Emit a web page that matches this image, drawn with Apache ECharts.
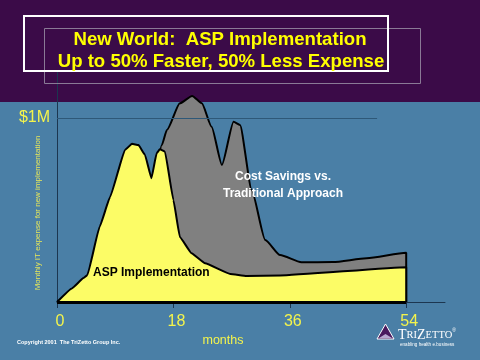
<!DOCTYPE html>
<html>
<head>
<meta charset="utf-8">
<script src="https://cdn.jsdelivr.net/npm/echarts@6/dist/echarts.min.js"></script>
<style>html,body{margin:0;padding:0;background:#4a7fa6;}#c{width:480px;height:360px;}</style>
</head>
<body>
<div id="c"></div>
<script>
// months since start
var aspMonths = [0, 2.3, 4.1, 4.7, 6.6, 8.2, 10.5, 11.6, 12.6, 13.6, 14.6, 15.4, 15.9, 16.7, 18.0, 19.0, 20.8, 22.9, 26.8, 29.3, 34.5, 54, 54];
// monthly IT expense, $M (ASP implementation)
var aspCost = [0, 0.074, 0.13, 0.147, 0.41, 0.57, 0.826, 0.86, 0.853, 0.80, 0.672, 0.808, 0.83, 0.817, 0.554, 0.353, 0.265, 0.21, 0.152, 0.141, 0.144, 0.189, 0];
// traditional approach
var tradMonths = [0, 10, 14.6, 16.2, 17.0, 19.0, 20.9, 22.4, 23.9, 25.5, 27.3, 28.3, 30.1, 32.2, 34.5, 37.8, 42.7, 47.9, 54, 54];
var tradCost = [0, 0.1, 0.55, 0.853, 0.935, 1.08, 1.12, 1.08, 0.953, 0.745, 0.98, 0.962, 0.609, 0.337, 0.255, 0.216, 0.217, 0.238, 0.268, 0];
var xTickValues = [0, 18, 36, 54];
var yTickValues = [1];
var yTickLabels = ['$1M'];

function pairs(xs, ys) { return xs.map(function (x, i) { return [x, ys[i]]; }); }

var chart = echarts.init(document.getElementById('c'));
var FONT = 'Liberation Sans, Arial, sans-serif';
chart.setOption({
  backgroundColor: '#4a7fa6',
  animation: false,
  grid: { left: 57, right: 35, top: 72, bottom: 58 },
  xAxis: {
    type: 'value', min: 0, max: 60, interval: 18,
    axisLine: { show: true, lineStyle: { color: '#1c3650', width: 1 } },
    axisTick: { show: true, length: 6, customValues: xTickValues, lineStyle: { color: '#1c3650' } },
    axisLabel: { customValues: xTickValues, color: '#f4f44c', fontSize: 16, fontFamily: FONT, margin: 12, padding: [0, 0, 0, 6] },
    splitLine: { show: false }
  },
  yAxis: {
    type: 'value', min: 0, max: 1.25,
    axisLine: { show: true, lineStyle: { color: '#1c3650', width: 1 } },
    axisTick: { show: false },
    axisLabel: {
      customValues: yTickValues, color: '#f4f44c', fontSize: 16, fontFamily: FONT, margin: 7,
      formatter: function (v) { var i = yTickValues.indexOf(v); return i >= 0 ? yTickLabels[i] : ''; }
    },
    splitLine: { show: false }
  },
  series: [
    {
      type: 'line', data: [], z: 1, silent: true,
      markLine: {
        silent: true, symbol: 'none', label: { show: false },
        lineStyle: { color: '#2e5878', width: 1, type: 'solid' },
        data: [[{ coord: [0, 1] }, { coord: [49.5, 1] }]]
      }
    },
    {
      name: 'Traditional Approach', type: 'line', z: 2,
      data: pairs(tradMonths, tradCost),
      showSymbol: false, smooth: 0.2, smoothMonotone: 'x',
      lineStyle: { color: '#000', width: 2 },
      areaStyle: { color: '#808080', opacity: 1 }
    },
    {
      name: 'ASP Implementation', type: 'line', z: 3,
      data: pairs(aspMonths, aspCost),
      showSymbol: false, smooth: 0.1, smoothMonotone: 'x',
      lineStyle: { color: '#000', width: 2 },
      areaStyle: { color: '#fcfc66', opacity: 1 },
      markLine: {
        silent: true, symbol: 'none', label: { show: false },
        lineStyle: { color: '#000', width: 3, type: 'solid' },
        data: [[{ coord: [0, 0] }, { coord: [54, 0] }]]
      }
    }
  ],
  graphic: [
    { type: 'rect', z: -10, shape: { x: 0, y: 0, width: 480, height: 102 }, style: { fill: '#3b0b48' } },
    { type: 'rect', z: 50, shape: { x: 44.5, y: 28.5, width: 376, height: 55 }, style: { fill: 'none', stroke: '#8a7a96', lineWidth: 1 } },
    { type: 'rect', z: 51, shape: { x: 24, y: 16, width: 364, height: 55 }, style: { fill: 'none', stroke: '#ffffff', lineWidth: 2 } },
    { type: 'text', z: 60, x: 220, y: 40, style: { text: 'New World:  ASP Implementation', fill: '#ffff00', font: 'bold 18.6px ' + FONT, textAlign: 'center', textVerticalAlign: 'middle' } },
    { type: 'text', z: 60, x: 221, y: 62, style: { text: 'Up to 50% Faster, 50% Less Expense', fill: '#ffff00', font: 'bold 18.6px ' + FONT, textAlign: 'center', textVerticalAlign: 'middle' } },
    { type: 'text', z: 60, x: 93, y: 273, style: { text: 'ASP Implementation', fill: '#000000', font: 'bold 12px ' + FONT, textAlign: 'left', textVerticalAlign: 'middle' } },
    { type: 'text', z: 60, x: 283, y: 177, style: { text: 'Cost Savings vs.', fill: '#ffffff', font: 'bold 12px ' + FONT, textAlign: 'center', textVerticalAlign: 'middle', textShadowColor: '#2a2a2a', textShadowOffsetX: 1.5, textShadowOffsetY: 1.5, textShadowBlur: 0 } },
    { type: 'text', z: 60, x: 283, y: 194, style: { text: 'Traditional Approach', fill: '#ffffff', font: 'bold 12px ' + FONT, textAlign: 'center', textVerticalAlign: 'middle', textShadowColor: '#2a2a2a', textShadowOffsetX: 1.5, textShadowOffsetY: 1.5, textShadowBlur: 0 } },
    { type: 'text', z: 60, x: 38, y: 213, rotation: Math.PI / 2, style: { text: 'Monthly IT expense for new implementation', fill: '#e6e65a', font: '8px ' + FONT, textAlign: 'center', textVerticalAlign: 'middle' } },
    { type: 'text', z: 60, x: 223, y: 341, style: { text: 'months', fill: '#f4f44c', font: '12.5px ' + FONT, textAlign: 'center', textVerticalAlign: 'middle' } },
    { type: 'text', z: 60, x: 17, y: 342, style: { text: 'Copyright 2001  The TriZetto Group Inc.', fill: '#ffffff', font: 'bold 5.5px ' + FONT, textAlign: 'left', textVerticalAlign: 'middle' } },
    { type: 'polygon', z: 60, shape: { points: [[377, 339], [385.5, 324], [394, 339]] }, style: { fill: '#4a1a5e', stroke: '#ffffff', lineWidth: 1 } },
    { type: 'polygon', z: 61, shape: { points: [[379, 338], [385.5, 334], [392, 338]] }, style: { fill: '#b8a8d0' } },
    { type: 'text', z: 60, x: 398, y: 335, style: {
        text: '{b|T}{s|RI}{b|Z}{s|ETTO}{r|®}', textAlign: 'left', textVerticalAlign: 'middle',
        rich: {
          b: { fill: '#ffffff', font: '14px Liberation Serif, DejaVu Serif, serif' },
          s: { fill: '#ffffff', font: '10.5px Liberation Serif, DejaVu Serif, serif' },
          r: { fill: '#ffffff', font: '5px ' + FONT, verticalAlign: 'top' }
        } } },
    { type: 'text', z: 60, x: 400, y: 344.5, style: { text: 'enabling health e.business', fill: '#ffffff', font: '4.6px ' + FONT, textAlign: 'left', textVerticalAlign: 'middle' } }
  ]
});
</script>
</body>
</html>
